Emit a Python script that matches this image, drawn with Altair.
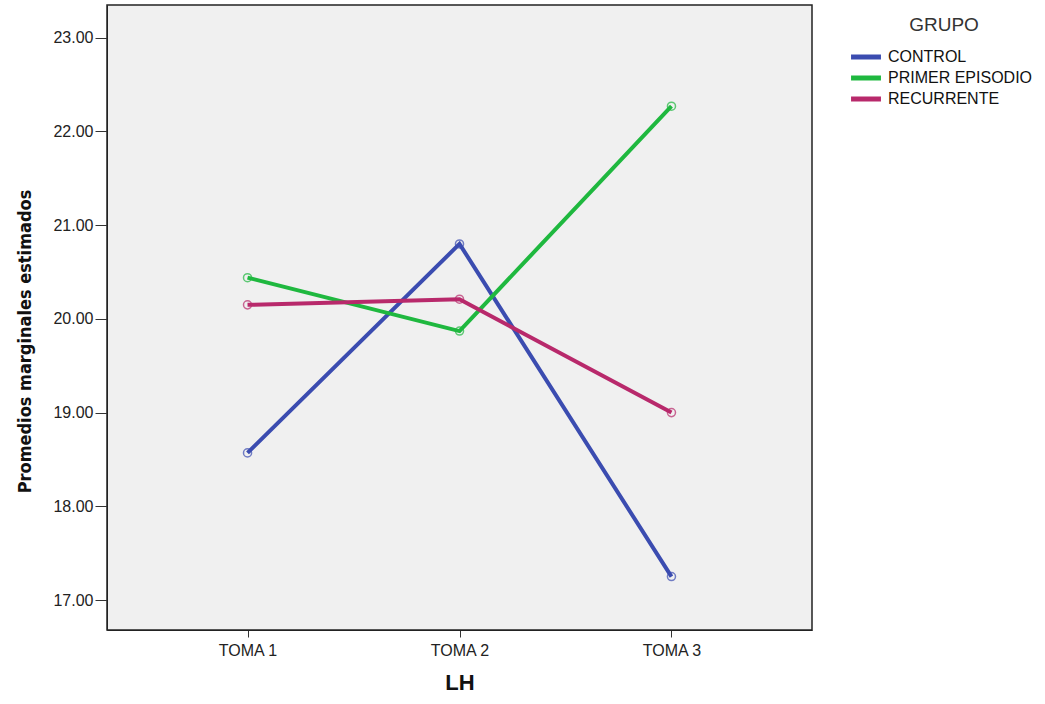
import altair as alt
import pandas as pd

tomas = ["TOMA 1", "TOMA 2", "TOMA 3"]
grupos = ["CONTROL", "PRIMER EPISODIO", "RECURRENTE"]
control = [18.57, 20.80, 17.25]
primer = [20.44, 19.87, 22.27]
recurrente = [20.15, 20.21, 19.00]
colores = ["#3B4CB0", "#1FB83F", "#B8296B"]

rows = []
for g, vals in zip(grupos, [control, primer, recurrente]):
    for t, v in zip(tomas, vals):
        rows.append({"LH": t, "GRUPO": g, "valor": v})
df = pd.DataFrame(rows)

x = alt.X("LH:N", sort=tomas, title="LH",
          scale=alt.Scale(type="point", padding=0.663),
          axis=alt.Axis(labelAngle=0, labelFont="Liberation Sans", labelFontSize=16,
                        labelColor="#222222", titleFont="Liberation Sans", titleFontSize=22,
                        titleFontWeight="bold", titleColor="#111111", titlePadding=14,
                        tickSize=7, tickColor="#333333", domainColor="#222222",
                        labelPadding=5))
y = alt.Y("valor:Q", title="Promedios marginales estimados",
          scale=alt.Scale(domain=[16.68, 23.35], nice=False, zero=False),
          axis=alt.Axis(values=[17, 18, 19, 20, 21, 22, 23], format=".2f", grid=False,
                        labelFont="Liberation Sans", labelFontSize=16, labelColor="#222222",
                        titleFont="DejaVu Sans Condensed, Liberation Sans", titleFontSize=18,
                        titleFontWeight="bold", titleColor="#111111", titlePadding=18,
                        titleY=336,
                        tickSize=12, tickColor="#333333", domainColor="#222222",
                        labelPadding=2))
color = alt.Color("GRUPO:N", sort=grupos,
                  scale=alt.Scale(domain=grupos, range=colores),
                  legend=alt.Legend(title="GRUPO", orient="none", legendX=748, legendY=11,
                                    titleFont="Liberation Sans", titleFontSize=19,
                                    titleFontWeight="normal", titleColor="#333333",
                                    titleAnchor="middle", titlePadding=11,
                                    labelFont="Liberation Sans", labelFontSize=16,
                                    labelColor="#111111", symbolType="M-1.76,0H1.76",
                                    symbolSize=289, symbolStrokeWidth=5, labelOffset=11,
                                    rowPadding=0))

base = alt.Chart(df)
lines = base.mark_line(strokeWidth=4).encode(x=x, y=y, color=color, order=alt.Order("LH:N"))
pts = base.mark_point(shape="circle", filled=False, size=65, strokeWidth=1.5).encode(
    x=x, y=y, color=alt.Color("GRUPO:N", sort=grupos, scale=alt.Scale(domain=grupos, range=colores), legend=None))

chart = (lines + pts).properties(
    width=705, height=625,
    autosize=alt.AutoSizeParams(type="none"),
    padding={"left": 107, "top": 5, "right": 233, "bottom": 74},
    background="white",
).configure_view(fill="#F0F0F0", stroke="#222222", strokeWidth=1.5)

chart.save("out.html", embed_options={"renderer": "svg", "actions": False})
